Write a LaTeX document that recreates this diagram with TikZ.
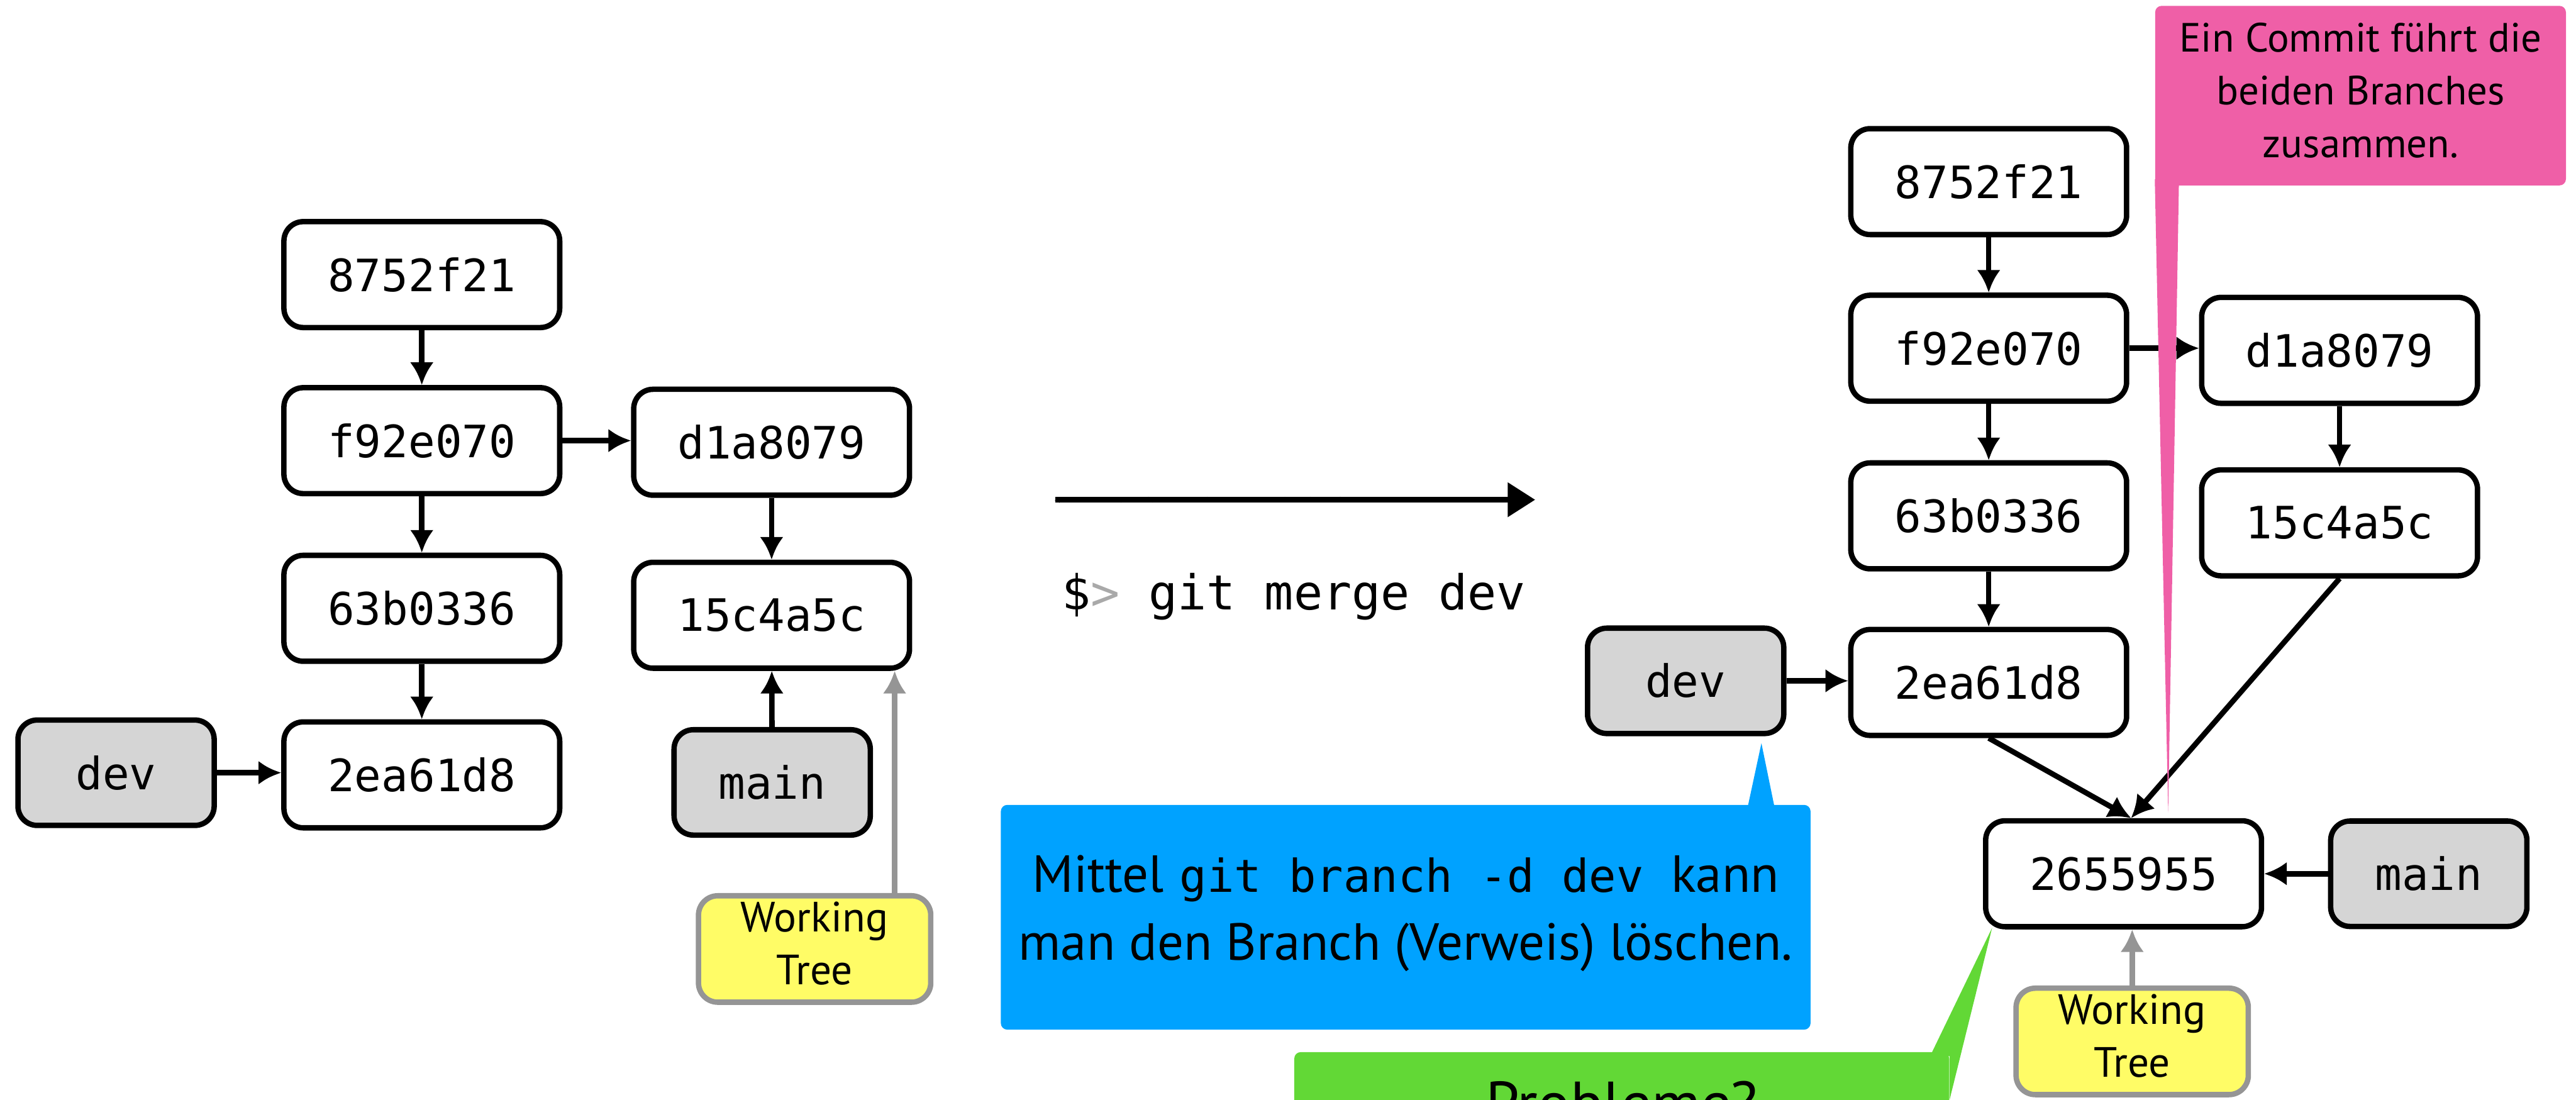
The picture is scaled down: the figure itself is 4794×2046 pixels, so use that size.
\documentclass[tikz,border=0pt]{standalone}
\usepackage{fontspec}
\setmainfont{PT Sans}
\setsansfont{PT Sans}
\setmonofont{DejaVu Sans Mono}
\usetikzlibrary{arrows.meta,calc,decorations.pathmorphing}

\definecolor{refgray}{HTML}{D5D5D5}
\definecolor{wtyellow}{HTML}{FFFC66}
\definecolor{wtborder}{HTML}{959595}
\definecolor{calloutpink}{HTML}{EF5FA7}
\definecolor{calloutblue}{HTML}{00A2FF}
\definecolor{calloutgreen}{HTML}{62D836}
\definecolor{promptgray}{HTML}{A9A9A9}

\begin{document}
\begin{tikzpicture}[x=0.01cm,y=-0.01cm,
  commit/.style={draw, line width=0.1cm, rounded corners=0.36cm, fill=white,
    minimum width=5.13cm, minimum height=1.97cm, inner sep=0pt,
    font=\fontsize{23.6}{28}\selectfont\ttfamily},
  refbox/.style={commit, fill=refgray, minimum width=3.65cm, minimum height=1.96cm},
  wtbox/.style={draw=wtborder, line width=0.1cm, rounded corners=0.36cm, fill=wtyellow,
    minimum width=4.32cm, minimum height=1.98cm, inner sep=0pt,
    label={[yshift=0.1cm, align=center, inner sep=0pt,
      font=\fontsize{22.4}{27.9}\selectfont]center:Working\\Tree}},
  edgearrow/.style={line width=0.1cm, -{Latex[length=0.42cm,width=0.44cm]}},
  wtarrow/.style={edgearrow, draw=wtborder, color=wtborder},
  bubble/.style={inner sep=0pt, rounded corners=0.12cm},
  bubbletext/.style={align=center, inner sep=0pt},
]
\useasboundingbox (0,0) rectangle (4794,2046);
\clip (0,0) rectangle (4794,2046);

% ---------- history before the merge ----------
\node[commit] (L8752) at (785,511)  {8752f21};
\node[commit] (Lf92)  at (785,820)  {f92e070};
\node[commit] (L63b)  at (785,1132) {63b0336};
\node[commit] (L2ea)  at (785,1442) {2ea61d8};
\node[refbox] (Ldev)  at (216,1438) {dev};
\node[commit] (Ld1a)  at (1436,823) {d1a8079};
\node[commit] (L15c)  at (1436,1145) {15c4a5c};
\node[refbox] (Lmain) at (1437,1456) {main};
\node[wtbox]  (Lwt)   at (1516,1766) {};
\coordinate (wtxL) at (1665,0);

\draw[edgearrow] (L8752) -- (Lf92);
\draw[edgearrow] (Lf92) -- (L63b);
\draw[edgearrow] (L63b) -- (L2ea);
\draw[edgearrow] (Lf92.east) -- (Lf92.east -| Ld1a.west);
\draw[edgearrow] (Ldev.east) -- (Ldev.east -| L2ea.west);
\draw[edgearrow] (Ld1a) -- (L15c);
\draw[edgearrow] (Lmain) -- (L15c);
\draw[wtarrow] (Lwt.north -| wtxL) -- (L15c.south -| wtxL);

% ---------- the merge command ----------
\coordinate (mergeA) at (1964,930);
\coordinate (mergeB) at (2857,930);
\draw[line width=0.1cm, -{Triangle[length=0.51cm,width=0.62cm]}] (mergeA) -- (mergeB);
\draw[line width=0.04cm, decorate,
  decoration={random steps, segment length=0.05cm, amplitude=0.03cm}]
  (mergeA) -- ($(mergeB)+(-50,0)$);
\node[anchor=base west, inner sep=0pt, font=\fontsize{25.5}{30}\selectfont\ttfamily]
  (cmd) at (1975,1135) {\$\textcolor{promptgray}{>} git merge dev};

% ---------- history after the merge ----------
\node[commit] (R8752) at (3701,338)  {8752f21};
\node[commit] (Rf92)  at (3701,648)  {f92e070};
\node[commit] (R63b)  at (3701,960)  {63b0336};
\node[commit] (R2ea)  at (3701,1270) {2ea61d8};
\node[refbox] (Rdev)  at (3137,1267) {dev};
\node[commit] (Rd1a)  at (4354,652)  {d1a8079};
\node[commit] (R15c)  at (4354,973)  {15c4a5c};
\node[commit] (R265)  at (3952,1626) {2655955};
\node[refbox] (Rmain) at (4520,1626) {main};
\node[wtbox]  (Rwt)   at (3968,1938) {};
\coordinate (mtip) at ($(R265.north)+(14,0)$);

\draw[edgearrow] (R8752) -- (Rf92);
\draw[edgearrow] (Rf92) -- (R63b);
\draw[edgearrow] (R63b) -- (R2ea);
\draw[edgearrow] (Rf92.east) -- (Rf92.east -| Rd1a.west);
\draw[edgearrow] (Rdev.east) -- (Rdev.east -| R2ea.west);
\draw[edgearrow] (Rd1a) -- (R15c);
\draw[edgearrow] (R2ea.south) -- (mtip);
\draw[edgearrow] (R15c.south) -- (mtip);
\draw[edgearrow] (Rmain.west) -- (R265.east);
\draw[wtarrow] (Rwt.north) -- (R265.south -| Rwt.north);

% ---------- callouts ----------
% pink: the merge commit
\node[bubble, fill=calloutpink, minimum width=7.64cm, minimum height=3.34cm]
  (pinkbox) at (4393,178) {};
\coordinate (pinktip) at ($(R265.north)+(83,-10)$);
\fill[calloutpink] ($(pinkbox.south west)+(0,-12)$) -- (pinktip)
  -- ($(pinkbox.south west)+(45,-12)$) -- cycle;
\node[bubbletext, font=\fontsize{21.6}{27.9}\selectfont] (pinktext) at (4393,168)
  {Ein Commit führt die\\beiden Branches\\zusammen.};

% blue: deleting the branch
\node[bubble, fill=calloutblue, minimum width=15.06cm, minimum height=4.18cm]
  (bluebox) at (2616,1707) {};
\coordinate (bluetip) at ($(Rdev.south)+(141,13)$);
\fill[calloutblue] ($(bluebox.north west)+(1389,12)$) -- (bluetip)
  -- ($(bluebox.north west)+(1442,12)$) -- cycle;
\node[bubbletext, font=\fontsize{27.6}{36}\selectfont] (bluetext) at (2616,1700)
  {Mittel\hspace{0.3em}{\ttfamily\fontsize{24}{36}\selectfont git branch -d dev\ }kann\\
   man den Branch (Verweis) löschen.};

% green: open question
\node[bubble, fill=calloutgreen, minimum width=12.18cm, minimum height=3.42cm]
  (greenbox) at (3018,2129) {};
\coordinate (greentip) at ($(R265.south west)+(17,-3)$);
\fill[calloutgreen] ($(greenbox.north east)+(-36,8)$) -- (greentip)
  -- ($(greenbox.north east)+(0,90)$) -- ($(greenbox.north east)+(0,8)$) -- cycle;
\node[anchor=base, inner sep=0pt, font=\fontsize{32}{38}\selectfont]
  (greentext) at (3018,2092) {Probleme?};
\end{tikzpicture}
\end{document}
